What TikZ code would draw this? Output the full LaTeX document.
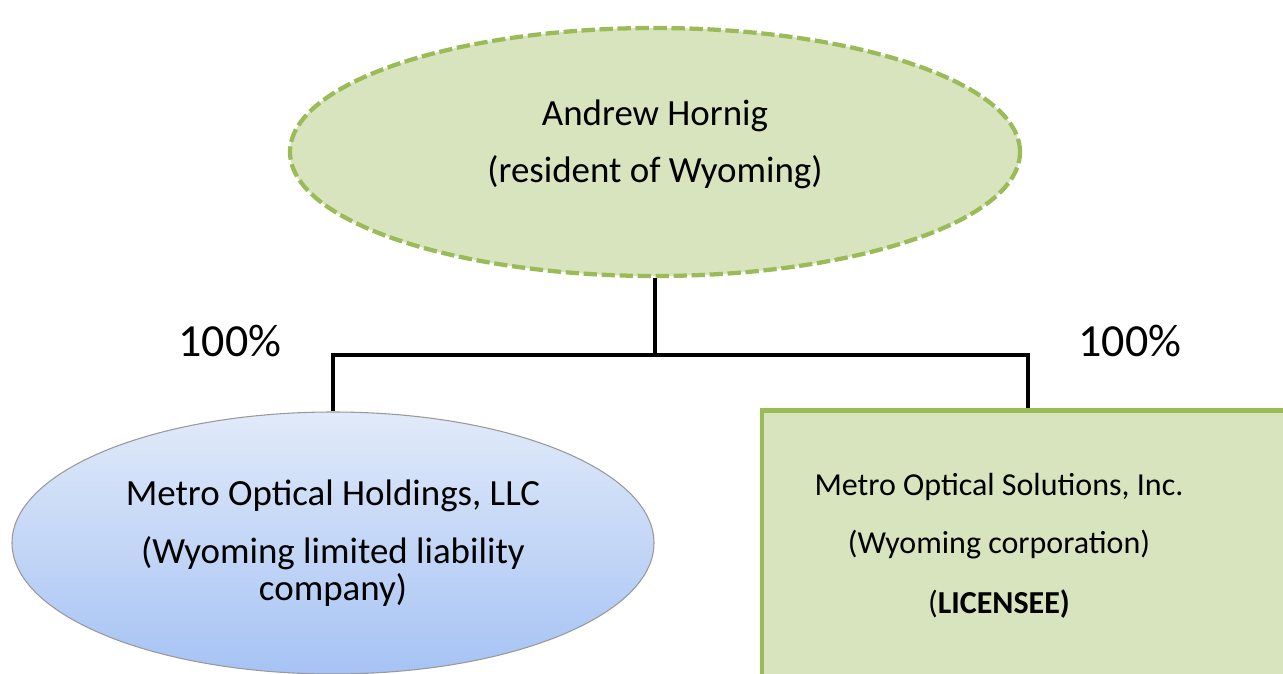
\documentclass[tikz,border=0pt]{standalone}
\usepackage{fontspec}
\setmainfont{Carlito}
\usetikzlibrary{shapes.geometric}
\definecolor{olivefill}{HTML}{D7E4BD}
\definecolor{oliveline}{HTML}{9BBB59}
\definecolor{bluetop}{HTML}{E1EAF9}
\definecolor{bluebot}{HTML}{A6C3F4}
\begin{document}
\begin{tikzpicture}[x=0.75pt, y=-0.75pt,
    owner/.style = {ellipse, fill=olivefill, draw=oliveline, line width=3.2pt, dash pattern=on 10pt off 3.5pt, minimum width=547.5pt, minimum height=186pt, inner sep=0pt},
    llc/.style = {ellipse, draw=gray!80, line width=0.8pt, top color=bluetop, bottom color=bluebot, minimum width=481.5pt, minimum height=196.5pt, inner sep=0pt, align=center, font=\fontsize{27.7}{27.7}\selectfont},
    corp/.style = {rectangle, fill=olivefill, draw=oliveline, line width=3.5pt, minimum width=399pt, minimum height=225pt},
    label/.style = {align=center, font=\fontsize{27.7}{27.7}\selectfont},
    small/.style = {align=center, font=\fontsize{24}{24}\selectfont},
    pct/.style = {font=\fontsize{34.5}{34.5}\selectfont},
    link/.style = {line width=3pt}]
    \clip (0,0) rectangle (1283,674);
    \node[owner] (0) at (655,152) {};
    \node[label] (1) at (655,144) {Andrew Hornig\\[15pt](resident of Wyoming)};
    \node[llc] (2) at (333,543) {Metro Optical Holdings, LLC\\[15.8pt](Wyoming limited liability\\company)};
    \node[corp, anchor=north] (3) at (1028,408) {};
    \node[small] (4) at (999,546) {Metro Optical Solutions, Inc.\\[19.5pt](Wyoming corporation)\\[21pt](\textbf{LICENSEE)}};
    \node[pct] (5) at (230,341) {100\%};
    \node[pct] (6) at (1130,341) {100\%};

    % ownership lines
    \coordinate (7) at (0.south |- 0,355);
    \draw[link] (0.south) -- (7);
    \draw[link] (7) -| (2.north);
    \draw[link] (7) -| (3.north);
\end{tikzpicture}
\end{document}
